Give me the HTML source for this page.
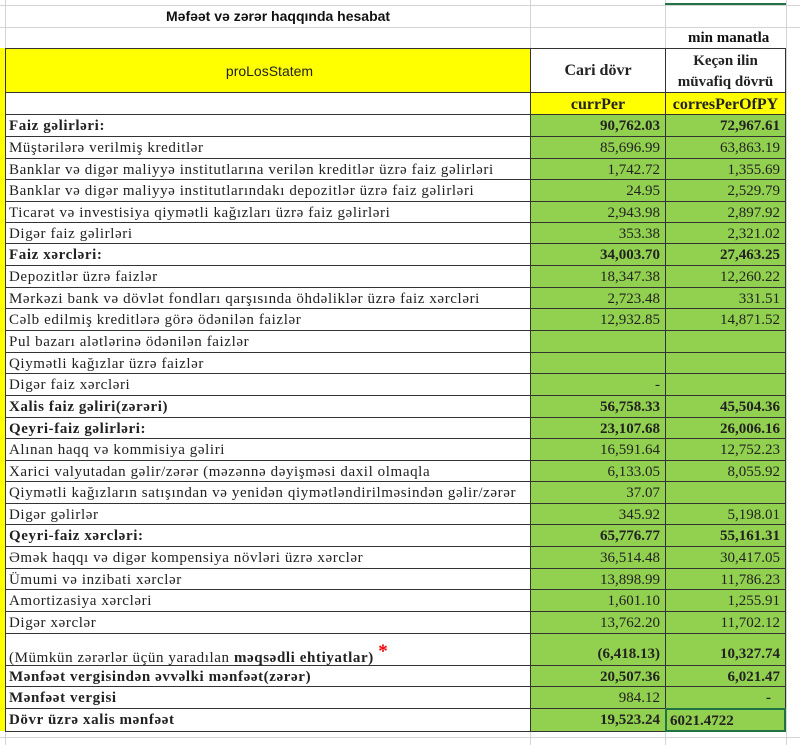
<!DOCTYPE html>
<html><head><meta charset="utf-8"><style>
body{margin:0;width:800px;height:745px;background:#fff;position:relative;overflow:hidden;font-family:"Liberation Serif",serif;font-size:15px;color:#222}
.g{position:absolute;background:#d4d4d4}
.c{position:absolute;box-sizing:border-box;border:1px solid #333;white-space:nowrap;overflow:visible;line-height:1}
.a{left:5px;width:526px;padding-left:3px;background:#fff;letter-spacing:0.6px}
.b{left:530px;width:136px;text-align:right;padding-right:5px;background:#92d050}
.d{left:665px;width:121px;text-align:right;padding-right:5px;background:#92d050}
.bd{font-weight:bold}
</style></head><body>
<div class="g" style="left:0;top:5px;width:800px;height:1px"></div>
<div class="g" style="left:0;top:27px;width:800px;height:1px"></div>
<div class="g" style="left:5px;top:0;width:1px;height:745px"></div>
<div class="g" style="left:530px;top:0;width:1px;height:745px"></div>
<div class="g" style="left:665px;top:0;width:1px;height:745px"></div>
<div class="g" style="left:786px;top:0;width:1px;height:745px"></div>
<div class="g" style="left:0;top:737px;width:800px;height:1px"></div>
<div style="position:absolute;left:665px;top:3px;width:121px;height:2px;background:#217346"></div>
<div style="position:absolute;left:0;top:48px;width:5px;height:683px;background:#ffff00"></div>
<div style="position:absolute;left:166px;top:8px;font-family:'Liberation Sans',sans-serif;font-weight:bold;font-size:14px;color:#111">Məfəət və zərər haqqında hesabat</div>
<div style="position:absolute;left:688px;top:30px;font-weight:bold;font-size:15px;color:#111">min manatla</div>
<div class="c a" style="top:48px;height:45px;background:#ffff00;text-align:center;padding-top:15px;font-family:'Liberation Sans',sans-serif;font-size:14px;letter-spacing:0">proLosStatem</div>
<div class="c b" style="top:48px;height:45px;background:#fff;text-align:center;padding:14px 0 0 0;font-weight:bold;font-size:16px">Cari dövr</div>
<div class="c d" style="top:48px;height:45px;background:#fff;text-align:center;padding:2px 0 0 0;font-weight:bold;line-height:21px">Keçən ilin<br>müvafiq dövrü</div>
<div class="c a" style="top:92px;height:23px"></div>
<div class="c b" style="top:92px;height:23px;background:#ffff00;text-align:center;padding:4px 0 0 0;font-weight:bold;font-size:16px">currPer</div>
<div class="c d" style="top:92px;height:23px;background:#ffff00;text-align:center;padding:4px 0 0 0;font-weight:bold;font-size:16px">corresPerOfPY</div>
<div id="rows"></div>
<script>
var R=[
["Faiz gəlirləri:","90,762.03","72,967.61",1],
["Müştərilərə verilmiş kreditlər","85,696.99","63,863.19"],
["Banklar və digər maliyyə institutlarına verilən kreditlər üzrə faiz gəlirləri","1,742.72","1,355.69"],
["Banklar və digər maliyyə institutlarındakı depozitlər üzrə faiz gəlirləri","24.95","2,529.79"],
["Ticarət və investisiya qiymətli kağızları üzrə faiz gəlirləri","2,943.98","2,897.92"],
["Digər faiz gəlirləri","353.38","2,321.02"],
["Faiz xərcləri:","34,003.70","27,463.25",1],
["Depozitlər üzrə faizlər","18,347.38","12,260.22"],
["Mərkəzi bank və dövlət fondları qarşısında öhdəliklər üzrə faiz xərcləri","2,723.48","331.51"],
["Cəlb edilmiş kreditlərə görə ödənilən faizlər","12,932.85","14,871.52"],
["Pul bazarı alətlərinə ödənilən faizlər","",""],
["Qiymətli kağızlar üzrə faizlər","",""],
["Digər faiz xərcləri","-",""],
["Xalis faiz gəliri(zərəri)","56,758.33","45,504.36",1],
["Qeyri-faiz gəlirləri:","23,107.68","26,006.16",1],
["Alınan haqq və kommisiya gəliri","16,591.64","12,752.23"],
["Xarici valyutadan gəlir/zərər (məzənnə dəyişməsi daxil olmaqla","6,133.05","8,055.92"],
["Qiymətli kağızların satışından və yenidən qiymətləndirilməsindən gəlir/zərər","37.07",""],
["Digər gəlirlər","345.92","5,198.01"],
["Qeyri-faiz xərcləri:","65,776.77","55,161.31",1],
["Əmək haqqı və digər kompensiya növləri üzrə xərclər","36,514.48","30,417.05"],
["Ümumi və inzibati xərclər","13,898.99","11,786.23"],
["Amortizasiya xərcləri","1,601.10","1,255.91"],
["Digər xərclər","13,762.20","11,702.12"],
["(Mümkün zərərlər üçün yaradılan <b>məqsədli ehtiyatlar)</b> <span style='color:#e00;font-size:19px;font-weight:bold;position:relative;top:-5px'>*</span>","(6,418.13)","10,327.74",2],
["Mənfəət vergisindən əvvəlki mənfəət(zərər)","20,507.36","6,021.47",1],
["Mənfəət vergisi","984.12","-",3],
["Dövr üzrə xalis mənfəət","19,523.24","6021.4722",1]
];
var tops=[114,136,158,179,201,222,243,265,287,308,330,352,373,395,417,438,460,481,503,524,546,568,589,611,633,665,686,708,731];
var h="";
for(var i=0;i<R.length;i++){var r=R[i],t=tops[i],hh=tops[i+1]-t+1,pt=hh>25?13:4;
var ab=r[3]==1||r[3]==3?" bd":"",bb=r[3]==1||r[3]==2?" bd":"";
var dd=r[3]==3?" bd":bb;
var dstyle=r[3]==3?"text-align:right;padding-right:14px;":"";
if(i==27){dstyle="text-align:left;padding-left:3px;border:2px solid #217346;";}
h+='<div class="c a'+ab+'" style="top:'+t+'px;height:'+hh+'px;padding-top:'+pt+'px">'+r[0]+'</div>';
h+='<div class="c b'+bb+'" style="top:'+t+'px;height:'+hh+'px;padding-top:'+pt+'px">'+r[1]+'</div>';
h+='<div class="c d'+dd+'" style="top:'+t+'px;height:'+hh+'px;padding-top:'+pt+'px;'+dstyle+'">'+r[2]+'</div>';}
document.getElementById("rows").innerHTML=h;
</script>
</body></html>
